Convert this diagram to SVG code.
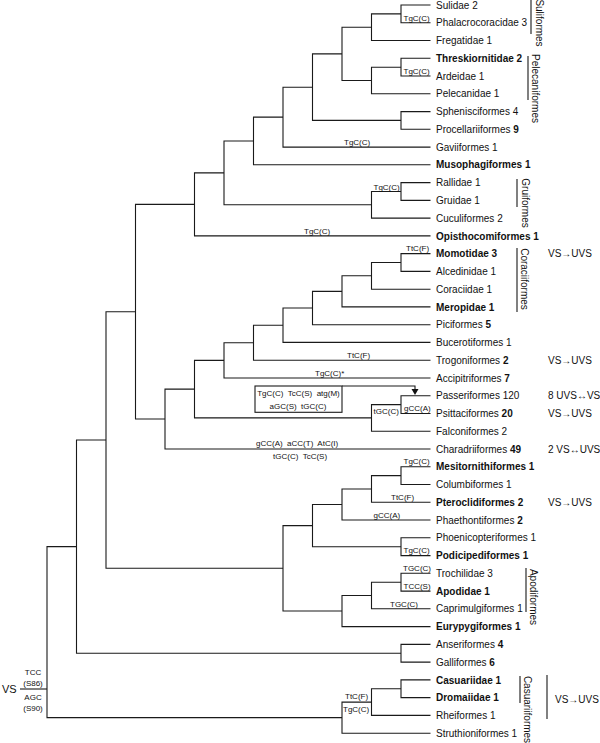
<svg xmlns="http://www.w3.org/2000/svg" width="600" height="743" viewBox="0 0 600 743">
<style>
.e{fill:none;stroke:#1a1a1a;stroke-width:1.1}
.l{font-family:"Liberation Sans",Arial,sans-serif;font-size:10px;fill:#111}
.m{font-family:"Liberation Sans",Arial,sans-serif;font-size:8px;fill:#111}
.b{font-weight:bold}
.g{font-family:"Liberation Sans",Arial,sans-serif;font-size:10px;fill:#111;text-anchor:middle}
</style>
<rect width="600" height="743" fill="#fff"/>
<g id="connectors" class="e">
<path d="M430.5 5H401V22.8H430.5"/>
<path d="M401 13.9H371.5V40.5H430.5"/>
<path d="M430.5 58.3H401V76H430.5"/>
<path d="M401 67.2H371.5V93.8H430.5"/>
<path d="M371.5 27.2H342V80.5H371.5"/>
<path d="M430.5 111.6H401V129.3H430.5"/>
<path d="M342 53.9H312.5V120.4H401"/>
<path d="M312.5 87.2H283V147.1H430.5"/>
<path d="M283 117.1H253.5V164.8H430.5"/>
<path d="M430.5 182.6H401V200.4H430.5"/>
<path d="M401 191.5H371.5V218.1H430.5"/>
<path d="M430.5 253.6H401V271.4H430.5"/>
<path d="M401 262.5H371.5V289.2H430.5"/>
<path d="M371.5 275.8H342V306.9H430.5"/>
<path d="M342 291.4H312.5V324.7H430.5"/>
<path d="M312.5 308H283V342.4H430.5"/>
<path d="M283 325.2H253.5V360.2H430.5"/>
<path d="M430.5 395.7H401V413.5H430.5"/>
<path d="M401 404.6H371.5V431.2H430.5"/>
<path d="M430.5 466.8H401V484.5H430.5"/>
<path d="M401 475.6H371.5V502.3H430.5"/>
<path d="M371.5 489H342V520H430.5"/>
<path d="M430.5 537.8H401V555.6H430.5"/>
<path d="M342 504.5H312.5V546.7H401"/>
<path d="M430.5 573.3H401V591.1H430.5"/>
<path d="M401 582.2H371.5V608.8H430.5"/>
<path d="M371.5 595.5H342V626.6H430.5"/>
<path d="M312.5 525.6H283V611H342"/>
<path d="M430.5 644.4H401V662.1H430.5"/>
<path d="M430.5 679.9H401V697.6H430.5"/>
<path d="M401 688.8H371.5V715.4H430.5"/>
<path d="M371.5 702.1H342V733.2H430.5"/>
<path d="M253.5 141H224V204.8H371.5"/>
<path d="M224 172.9H194.5V235.9H430.5"/>
<path d="M253.5 342.7H224V378H430.5"/>
<path d="M224 360.4H194.5V417.9H371.5"/>
<path d="M194.5 389.1H165V449H430.5"/>
<path d="M194.5 204.4H135.5V419H165"/>
<path d="M135.5 311.7H106V568.3H283"/>
<path d="M106 440H76.5V653.2H401"/>
<path d="M76.5 546.6H47V717.6H342"/>
<path d="M20 689H47"/>
<rect x="255" y="386" width="87" height="26.3"/>
<path d="M342 386H415V390"/>
<path d="M531 0V34M528 56V100M517 179V207M517 248V312M526 568V612M520 676V703M547 675V719"/>
</g>
<polygon points="411.5,389 418.5,389 415,395" fill="#111"/>
<g id="leaves" class="l">
<text x="436" y="8.6">Sulidae 2</text>
<text x="436" y="26.4">Phalacrocoracidae 3</text>
<text x="436" y="44.1">Fregatidae 1</text>
<text x="436" y="61.9" class="b">Threskiornitidae 2</text>
<text x="436" y="79.6">Ardeidae 1</text>
<text x="436" y="97.4">Pelecanidae 1</text>
<text x="436" y="115.2">Sphenisciformes 4</text>
<text x="436" y="132.9">Procellariiformes <tspan class="b">9</tspan></text>
<text x="436" y="150.7">Gaviiformes 1</text>
<text x="436" y="168.4" class="b">Musophagiformes 1</text>
<text x="436" y="186.2">Rallidae 1</text>
<text x="436" y="204">Gruidae 1</text>
<text x="436" y="221.7">Cuculiformes 2</text>
<text x="436" y="239.5" class="b">Opisthocomiformes 1</text>
<text x="436" y="257.2" class="b">Momotidae 3</text>
<text x="436" y="275">Alcedinidae 1</text>
<text x="436" y="292.8">Coraciidae 1</text>
<text x="436" y="310.5" class="b">Meropidae 1</text>
<text x="436" y="328.3">Piciformes <tspan class="b">5</tspan></text>
<text x="436" y="346">Bucerotiformes 1</text>
<text x="436" y="363.8">Trogoniformes <tspan class="b">2</tspan></text>
<text x="436" y="381.6">Accipitriformes <tspan class="b">7</tspan></text>
<text x="436" y="399.3">Passeriformes 120</text>
<text x="436" y="417.1">Psittaciformes <tspan class="b">20</tspan></text>
<text x="436" y="434.8">Falconiformes 2</text>
<text x="436" y="452.6">Charadriiformes <tspan class="b">49</tspan></text>
<text x="436" y="470.4" class="b">Mesitornithiformes 1</text>
<text x="436" y="488.1">Columbiformes 1</text>
<text x="436" y="505.9" class="b">Pteroclidiformes 2</text>
<text x="436" y="523.6">Phaethontiformes <tspan class="b">2</tspan></text>
<text x="436" y="541.4">Phoenicopteriformes 1</text>
<text x="436" y="559.2" class="b">Podicipediformes 1</text>
<text x="436" y="576.9">Trochilidae 3</text>
<text x="436" y="594.7" class="b">Apodidae 1</text>
<text x="436" y="612.4">Caprimulgiformes 1</text>
<text x="436" y="630.2" class="b">Eurypygiformes 1</text>
<text x="436" y="648">Anseriformes <tspan class="b">4</tspan></text>
<text x="436" y="665.7">Galliformes <tspan class="b">6</tspan></text>
<text x="436" y="683.5" class="b">Casuariidae 1</text>
<text x="436" y="701.2" class="b">Dromaiidae 1</text>
<text x="436" y="719">Rheiformes 1</text>
<text x="436" y="736.8">Struthioniformes 1</text>
</g>
<g id="mutations" class="m">
<text x="403.5" y="20.8">TgC(C)</text>
<text x="403.5" y="74">TgC(C)</text>
<text x="344" y="144.9">TgC(C)</text>
<text x="373.5" y="189.5">TgC(C)</text>
<text x="304" y="233.7">TgC(C)</text>
<text x="406" y="251.4">TtC(F)</text>
<text x="347" y="358">TtC(F)</text>
<text x="315" y="375.8">TgC(C)*</text>
<text x="298.5" y="396.2" text-anchor="middle" xml:space="preserve">TgC(C)  TcC(S)  atg(M)</text>
<text x="298" y="408.9" text-anchor="middle" xml:space="preserve">aGC(S)  tGC(C)</text>
<text x="404" y="411.3">gCC(A)</text>
<text x="373.5" y="413.9">tGC(C)</text>
<text x="256" y="445.6" xml:space="preserve">gCC(A)  aCC(T)  AtC(I)</text>
<text x="273" y="458.9" xml:space="preserve">tGC(C)  TcC(S)</text>
<text x="403.5" y="464.4">TgC(C)</text>
<text x="391" y="500.2">TtC(F)</text>
<text x="373.5" y="517.9">gCC(A)</text>
<text x="403.5" y="553.4">TgC(C)</text>
<text x="403" y="570.8">TGC(C)</text>
<text x="403.5" y="588.9">TCC(S)</text>
<text x="390" y="606.5">TGC(C)</text>
<text x="345" y="698.9">TtC(F)</text>
<text x="343" y="712">TgC(C)</text>
<text x="33" y="675" text-anchor="middle">TCC</text>
<text x="33" y="686" text-anchor="middle">(S86)</text>
<text x="33" y="700" text-anchor="middle">AGC</text>
<text x="33" y="711" text-anchor="middle">(S90)</text>
</g>
<g id="root" class="l"><text x="2" y="693" style="font-size:11px">VS</text></g>
<g id="groups" class="g">
<text transform="translate(536,23) rotate(90)">Suliformes</text>
<text transform="translate(531.5,88.5) rotate(90)">Pelecaniformes</text>
<text transform="translate(521.5,203) rotate(90)">Gruiformes</text>
<text transform="translate(520.5,279) rotate(90)">Coraciiformes</text>
<text transform="translate(530,597) rotate(90)">Apodiformes</text>
<text transform="translate(523.5,709.5) rotate(90)">Casuariiformes</text>
</g>
<g id="vision" class="l">
<text x="548" y="257.2">VS→UVS</text>
<text x="548" y="363.8">VS→UVS</text>
<text x="548" y="399.3">8 UVS↔VS</text>
<text x="548" y="417.1">VS→UVS</text>
<text x="548" y="452.6">2 VS↔UVS</text>
<text x="548" y="505.9">VS→UVS</text>
<text x="555" y="702.6">VS→UVS</text>
</g>
</svg>
